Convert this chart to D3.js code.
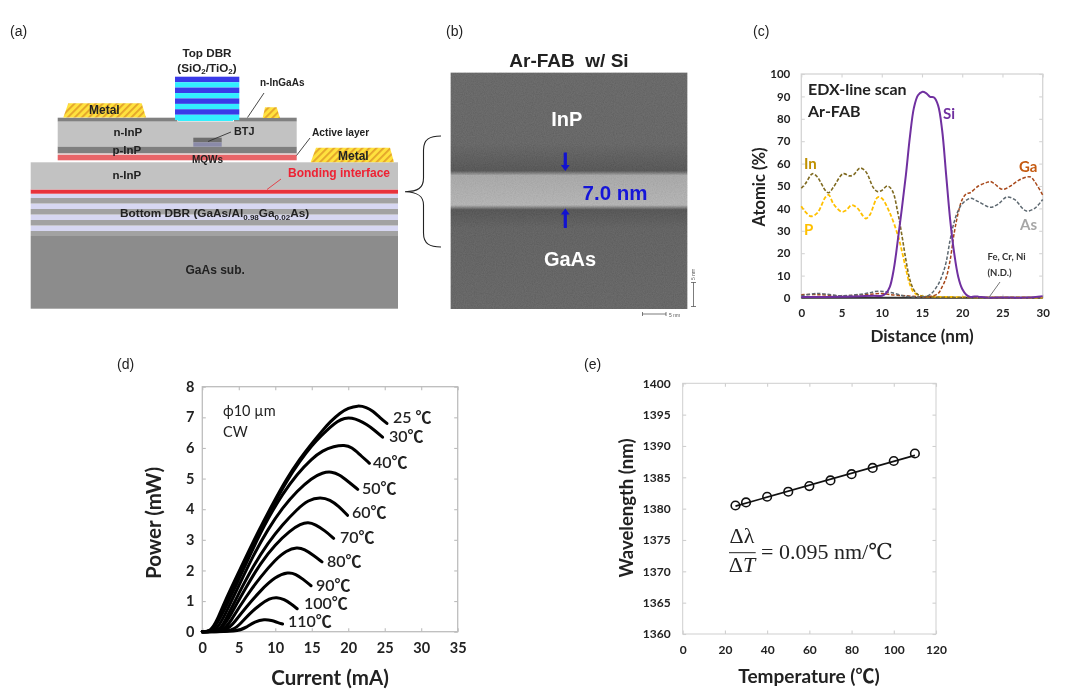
<!DOCTYPE html>
<html><head><meta charset="utf-8">
<script src="https://cdn.jsdelivr.net/npm/d3@7/dist/d3.min.js"></script>
<style>html,body{margin:0;padding:0;background:#fff}svg{display:block;filter:blur(0.4px)}</style>
</head><body><svg id="c" width="1090" height="696"></svg>
<script>
// ---------- panel (c) EDX line scan: [distance nm, atomic %]
const edxIn=[[0,49],[0.5,51],[1.4,55.5],[2,54],[3,48],[3.4,47],[4,49.5],[5.2,55.5],[6,54.5],[6.5,55],[7.3,58],[8,56.5],[9,49],[9.5,47.5],[10,48],[10.7,50],[11.3,48],[12,38],[12.5,28],[13,17],[13.5,8],[14,3.5],[14.5,1.5],[15,0.8],[16,0.5],[18,0.3],[22,0.2],[30,0.2]];
const edxP=[[0,41],[0.5,38.5],[1.2,36.5],[2,38],[3,45],[3.4,46],[4,42],[5,38.5],[5.5,39],[6.3,41.5],[7,40],[8,35.5],[8.5,37],[9.5,45],[10,44.5],[11,38],[12,28],[12.5,21],[13,13],[13.5,6],[14,2.5],[15,0.8],[16,0.6],[18,0.5],[22,0.3],[30,0.2]];
const edxSi=[[0,0.5],[5,0.6],[9,1],[10,1],[10.5,2],[11,5],[11.5,13],[12,26],[12.5,40],[13,55],[13.5,72],[14,85],[14.5,90.5],[15,92],[15.5,91.5],[16,89.8],[16.5,89.5],[17,86],[17.5,75],[18,55],[18.5,35],[19,20],[19.5,9.5],[20,4],[20.5,1.5],[21,0.5],[21.5,0.7],[22,0.6],[23,0.2],[25,0.2],[28,0.2],[30,0.8]];
const edxGa=[[0,1.5],[2,1.5],[5,1],[8,1.5],[10,2],[11,1.5],[13,1],[15,0.5],[16,0.7],[17,2],[17.5,5],[18,9],[18.5,17],[19,29],[19.5,38],[20,44],[20.5,46.5],[21,47],[22,50],[23,51.5],[23.5,52],[24,51],[25,48.5],[26,50],[27,52.5],[28,54],[28.5,54],[29,52],[30,46]];
const edxAs=[[0,1],[2,2],[5,1],[8,2],[9.5,3],[11,2.5],[13,0.8],[15,0.5],[16,1.5],[17,6],[17.5,10],[18,16],[18.5,26],[19,34],[19.5,39],[20,42],[21,44.5],[22,43],[23.5,40.5],[24.5,42],[25.5,45],[26.5,44],[27.5,40],[28,38.8],[29,40],[30,44]];
const edxTrace=[[0,0.1],[10,0.1],[20,0.1],[30,0.1]];
const edxXTicks=[0,5,10,15,20,25,30];
const edxYTicks=[0,10,20,30,40,50,60,70,80,90,100];

// ---------- panel (d) L-I curves: [current mA, power mW]
const liTemps=["25 ℃","30℃","40℃","50℃","60℃","70℃","80℃","90℃","100℃","110℃"];
const li25=[[0,0],[1.1,0],[2,0.35],[3,0.95],[5.2,2.05],[7.5,3.2],[9.7,4.2],[11.5,4.98],[13.4,5.66],[15,6.15],[16.4,6.55],[17.5,6.85],[18.9,7.15],[20,7.3],[21.3,7.39],[22.5,7.33],[23.4,7.2],[24.3,7.0],[25.3,6.8]];
const li30=[[0,0],[1.2,0],[2,0.3],[3,0.85],[5.2,1.98],[7.5,3.12],[9.7,4.12],[11.5,4.9],[13.4,5.58],[15,6.08],[16.4,6.42],[17.5,6.67],[18.5,6.87],[19.5,6.98],[20.5,6.98],[21.5,6.9],[22.5,6.77],[23.5,6.6],[24.7,6.35]];
const li40=[[0,0],[1.5,0],[3,0.7],[5,1.7],[7,2.75],[9,3.7],[11,4.5],[13,5.15],[15,5.65],[16.5,5.92],[18,6.05],[19.5,6.1],[20.5,6.02],[21.5,5.8],[22.9,5.5]];
const li50=[[0,0],[1.9,0],[3,0.5],[5,1.5],[7,2.5],[9,3.35],[11,4.05],[13,4.6],[15,5.02],[16.5,5.2],[17.7,5.23],[18.8,5.13],[20,4.9],[21.3,4.65]];
const li60=[[0,0],[2.3,0],[3,0.3],[5,1.25],[7,2.15],[9,2.9],[11,3.5],[13,4.0],[14.5,4.3],[16.2,4.4],[17.5,4.31],[18.7,4.1],[19.9,3.8]];
const li70=[[0,0],[2.6,0],[4,0.6],[6,1.45],[8,2.25],[10,2.85],[12,3.3],[13.5,3.52],[14.5,3.58],[15.5,3.5],[16.8,3.3],[18,3.05]];
const li80=[[0,0],[3,0],[4,0.4],[6,1.15],[8,1.8],[10,2.35],[11.5,2.65],[13,2.76],[14,2.69],[15.2,2.5],[16.4,2.28]];
const li90=[[0,0],[3.4,0],[4.5,0.35],[6,0.8],[8,1.35],[10,1.8],[11.8,1.95],[12.8,1.88],[13.8,1.72],[14.9,1.5]];
const li100=[[0,0],[4,0],[5,0.2],[6.5,0.6],[8,0.9],[9.2,1.09],[10.2,1.13],[11.2,1.06],[12.2,0.9],[13,0.75]];
const li110=[[0,0],[4.9,0],[6,0.14],[7.2,0.33],[8.5,0.41],[9.5,0.37],[10.3,0.3],[11,0.25]];
const liSeries=[li25,li30,li40,li50,li60,li70,li80,li90,li100,li110];
const liXTicks=[0,5,10,15,20,25,30,35];
const liYTicks=[0,1,2,3,4,5,6,7,8];

// ---------- panel (e) wavelength vs temperature
const tempC=[25,30,40,50,60,70,80,90,100,110];
const wavelengthNm=[1380.5,1381,1381.9,1382.7,1383.6,1384.5,1385.5,1386.5,1387.6,1388.8];
const fitTemp=[25,110];
const fitWavelength=[1380.4,1388.5];
const wlXTicks=[0,20,40,60,80,100,120];
const wlYTicks=[1360,1365,1370,1375,1380,1385,1390,1395,1400];

// ---------- panel (a) layer stack thicknesses, substrate upward (schematic units)
const stackNames=["GaAs sub.","GaAs","AlGaAs","GaAs","AlGaAs","GaAs","AlGaAs","GaAs","AlGaAs","Bond","n-InP"];
const stackThick=[72.7,5,5.5,5.5,5.5,5.5,5.5,5.5,4.3,4.2,27.2];
const topDbrPairs=[1,2,3,4];

const svg=d3.select("#c");
const defs=svg.append("defs");
const SANS="'Liberation Sans',Arial,sans-serif", LATO="Lato,'Noto Sans CJK JP',sans-serif";
function T(g,x,y,s,o={}){
  const t=g.append("text").attr("x",x).attr("y",y).attr("font-family",o.f||SANS)
   .attr("font-size",o.s||11).attr("font-weight",o.w||"normal").attr("fill",o.c||"#111")
   .attr("text-anchor",o.a||"start").text(s);
  if(o.ls)t.attr("letter-spacing",o.ls);
  if(o.rot)t.attr("transform",`rotate(${o.rot} ${x} ${y})`);
  return t;
}
// panel letters
[["(a)",10,36],["(b)",446,36],["(c)",753,36],["(d)",117,369],["(e)",584,369]].forEach(d=>T(svg,d[1],d[2],d[0],{s:14,c:"#222"}));

// ======= (a) =======
const a=svg.append("g");
const hatch=defs.append("pattern").attr("id","hatch").attr("width",5).attr("height",5).attr("patternUnits","userSpaceOnUse").attr("patternTransform","rotate(45)");
hatch.append("rect").attr("width",5).attr("height",5).attr("fill","#ffe23e");
hatch.append("rect").attr("width",1.8).attr("height",5).attr("fill","#e3a32a");
const ax=d3.scaleLinear().domain([0,1090]).range([0,1090]);
const ay=d3.scaleLinear().domain([0,696]).range([696,0]); // schematic height scale
const stackCol={"GaAs sub.":"#8c8c8c","GaAs":"#a2a2a2","AlGaAs":"#d7d7f2","Bond":"#e8323c","n-InP":"#c2c2c2"};
let h0=696-308.7;
stackNames.forEach((n,i)=>{
  const top=h0+stackThick[i];
  a.append("rect").attr("x",ax(30.7)).attr("width",ax(398)-ax(30.7)).attr("y",ay(top)).attr("height",ay(h0)-ay(top)).attr("fill",stackCol[n]);
  h0=top;
});
const R=(x0,x1,y0,y1,c)=>a.append("rect").attr("x",ax(x0)).attr("width",ax(x1)-ax(x0)).attr("y",y0).attr("height",y1-y0).attr("fill",c);
R(57.7,296.7,121.5,146.7,"#c2c2c2");
R(57.7,296.7,146.7,153.5,"#7f7f7f");
R(57.7,296.7,153.5,155,"#e9c9c9");
R(57.7,296.7,155,160.3,"#e86468");
R(57.7,177.3,117.7,121.5,"#808080");
R(234,296.7,117.7,121.5,"#808080");
// Top DBR
R(178,233,115,121,"#33f0ff");
topDbrPairs.forEach((p,i)=>{
  R(175,239.3,76.7+i*10.85,82.2+i*10.85,"#3a3ae8");
  R(175,239.3,82.2+i*10.85,87.55+i*10.85,"#33eeff");
});
R(193.3,221.7,137.7,142.3,"#6e6e6e");
R(193.3,221.7,142.3,146.7,"#8a8aa8");
const metal=[[[63.3,117.4],[68.3,103.3],[141.7,103.3],[146,117.4]],[[262.7,118],[265,107.3],[276.7,107.3],[280,118]],[[310.7,162.3],[316,147.7],[390,147.7],[394,162.3]]];
metal.forEach(m=>a.append("path").attr("d",d3.line()(m)+"Z").attr("fill","url(#hatch)"));
const bo={w:"bold",s:11.5,c:"#222"};
T(a,207,57,"Top DBR",{...bo,a:"middle",s:11.7});
const sd=T(a,207,72,"",{...bo,a:"middle",s:11.7});
[["(SiO",0],["2",2],["/TiO",-2],["2",2],[")",-2]].forEach(d=>sd.append("tspan").attr("dy",d[1]).attr("font-size",d[1]>0?8:11.7).text(d[0]));
T(a,260,86,"n-InGaAs",{...bo,s:10});
T(a,89,114,"Metal",{...bo,s:12});
T(a,338,160,"Metal",{...bo,s:12});
T(a,113.5,136,"n-InP",bo);
T(a,112.5,153.5,"p-InP",bo);
T(a,192,162.5,"MQWs",{...bo,s:10});
T(a,234,135,"BTJ",{...bo,s:10.8});
T(a,312,136,"Active layer",{...bo,s:10.2});
T(a,112.5,179,"n-InP",bo);
T(a,288,177,"Bonding interface",{...bo,s:12,c:"#ee2233"});
T(a,185.5,274,"GaAs sub.",{...bo,s:12});
const db=T(a,120,217,"",{...bo,s:11.8});
[["Bottom DBR (GaAs/Al",0,11.8],["0.98",3,8],["Ga",-3,11.8],["0.02",3,8],["As)",-3,11.8]].forEach(d=>db.append("tspan").attr("dy",d[1]).attr("font-size",d[2]).text(d[0]));
[[[247.5,117.5],[264,93]],[[208,141.5],[231,132]],[[296.5,155.5],[310,138]]].forEach(l=>a.append("path").attr("d",d3.line()(l)).attr("stroke","#333").attr("stroke-width",0.9).attr("fill","none"));
a.append("path").attr("d",d3.line()([[267,189.5],[281,179]])).attr("stroke","#e8323c").attr("stroke-width",0.9).attr("fill","none");
// brace
a.append("path").attr("d","M441,136 C430,136 423.5,139 423.5,150 L423.5,178 C423.5,188 418,191.5 405,191.7 C418,192 423.5,196 423.5,205 L423.5,233 C423.5,244 430,247 441,247").attr("fill","none").attr("stroke","#222").attr("stroke-width",1.1);

// ======= (b) =======
const b=svg.append("g");
const gr=defs.append("linearGradient").attr("id","tem").attr("x1",0).attr("x2",0).attr("y1",0).attr("y2",1);
[[0,"#585858"],[0.3,"#565656"],[0.415,"#434343"],[0.435,"#a4a4a4"],[0.56,"#b2b2b2"],[0.58,"#424242"],[0.66,"#515151"],[1,"#565656"]].forEach(d=>gr.append("stop").attr("offset",d[0]).attr("stop-color",d[1]));
const nf=defs.append("filter").attr("id","noise").attr("x",0).attr("y",0).attr("width",1).attr("height",1);
nf.append("feTurbulence").attr("type","fractalNoise").attr("baseFrequency",0.9).attr("numOctaves",2).attr("seed",3);
nf.append("feColorMatrix").attr("values","0.6 0 0 0 0.2  0.6 0 0 0 0.2  0.6 0 0 0 0.2  0 0 0 0 1");
b.append("rect").attr("x",450.7).attr("y",72.7).attr("width",236.6).attr("height",236.3).attr("fill","url(#tem)");
b.append("rect").attr("x",450.7).attr("y",72.7).attr("width",236.6).attr("height",236.3).attr("filter","url(#noise)").attr("opacity",0.18);
T(b,569,66.7,"Ar-FAB\u00a0\u00a0w/ Si",{s:19,w:"bold",a:"middle",c:"#222"});
T(b,566.7,125.7,"InP",{s:20,w:"bold",a:"middle",c:"#fff"});
T(b,570,266,"GaAs",{s:20,w:"bold",a:"middle",c:"#fff"});
T(b,582.6,200,"7.0 nm",{s:20.5,w:"bold",c:"#1515d8"});
const arrow=(x,y0,y1)=>{const d=y1>y0?1:-1;
 b.append("path").attr("d",`M${x-1.6},${y0} L${x+1.6},${y0} L${x+1.6},${y1-d*6} L${x+4.4},${y1-d*6} L${x},${y1} L${x-4.4},${y1-d*6} L${x-1.6},${y1-d*6}Z`).attr("fill","#1212d0");};
arrow(565.3,152.5,171);arrow(565.3,228,208.5);
const sc="#444";
b.append("path").attr("d","M693.5,282.5 V306.5 M691,282.5 H696 M691,306.5 H696 M642.5,312 V316 M642.5,314 H666 M666,312 V316").attr("stroke",sc).attr("stroke-width",0.7).attr("fill","none");
T(b,669,317,"5 nm",{s:5,c:"#555"});
T(b,695,280,"5 nm",{s:5,c:"#555",rot:-90});

// ---------- axes helper
function axes(g,box,x,y,xT,yT,o){
  const [l,t,r,bt]=box;
  g.append("rect").attr("x",l).attr("y",t).attr("width",r-l).attr("height",bt-t).attr("fill","none").attr("stroke",o.frame).attr("stroke-width",o.fw||1.3);
  const mk=(gen,tr)=>{const s=g.append("g").attr("transform",tr).call(gen);s.select(".domain").remove();s.selectAll("line").attr("stroke",o.frame).attr("stroke-width",1.1);return s;};
  const bx=mk(d3.axisBottom(x).tickValues(xT).tickSizeInner(-3.5).tickSizeOuter(0).tickPadding(o.xp).tickFormat(d3.format("d")),`translate(0,${bt})`);
  const ly=mk(d3.axisLeft(y).tickValues(yT).tickSizeInner(-3.5).tickSizeOuter(0).tickPadding(o.yp).tickFormat(d3.format("d")),`translate(${l},0)`);
  mk(d3.axisTop(x).tickValues(xT).tickSizeInner(-3.5).tickSizeOuter(0).tickFormat(""),`translate(0,${t})`);
  mk(d3.axisRight(y).tickValues(yT).tickSizeInner(-3.5).tickSizeOuter(0).tickFormat(""),`translate(${r},0)`);
  [bx,ly].forEach(s=>s.selectAll("text").attr("font-family",o.ff).attr("font-size",o.fs).attr("font-weight","bold").attr("fill","#222"));
}

// ======= (c) =======
const c=svg.append("g");
const cx=d3.scaleLinear().domain([0,30]).range([801.3,1042.7]);
const cy=d3.scaleLinear().domain([0,100]).range([298,74]);
axes(c,[801.3,74,1042.7,298],cx,cy,edxXTicks,edxYTicks,{frame:"#d4d4d4",xp:11,yp:11,ff:LATO,fs:11.5});
const cl=d3.line().x(d=>cx(d[0])).y(d=>cy(d[1])).curve(d3.curveCatmullRom.alpha(0.5));
[[edxTrace,"#333",2,null],[edxP,"#ffc000",1.8,"4 2"],[edxIn,"#7f6a20",1.6,"3.5 1.8"],[edxGa,"#a8481a",1.5,"3.5 1.8"],[edxAs,"#5d6870",1.5,"3.5 1.8"],[edxSi,"#7030a0",2,null]].forEach(s=>{
  const p=c.append("path").attr("d",cl(s[0])).attr("fill","none").attr("stroke",s[1]).attr("stroke-width",s[2]);
  if(s[3])p.attr("stroke-dasharray",s[3]);
});
T(c,808,95,"EDX-line scan",{f:LATO,s:16,w:"bold",c:"#222"});
T(c,808,117,"Ar-FAB",{f:LATO,s:16,w:"bold",c:"#222"});
T(c,943,119,"Si",{f:LATO,s:15,w:"bold",c:"#7030a0"});
T(c,804,169,"In",{f:LATO,s:15,w:"bold",c:"#bf9000"});
T(c,804,235,"P",{f:LATO,s:15,w:"bold",c:"#ffc000"});
T(c,1019,172,"Ga",{f:LATO,s:15,w:"bold",c:"#c55a11"});
T(c,1020,230,"As",{f:LATO,s:15,w:"bold",c:"#a6a6a6"});
T(c,987.5,260,"Fe, Cr, Ni",{f:LATO,s:9.5,w:"bold",c:"#333"});
T(c,987.5,276,"(N.D.)",{f:LATO,s:9.5,w:"bold",c:"#333"});
c.append("path").attr("d",d3.line()([[1000,282],[988.5,298]])).attr("stroke","#777").attr("fill","none");
T(c,922,342,"Distance (nm)",{f:LATO,s:17,w:"bold",a:"middle",c:"#222"});
T(c,765,187,"Atomic (%)",{f:LATO,s:16.5,w:"bold",a:"middle",c:"#222",rot:-90});

// ======= (d) =======
const d_=svg.append("g");
const dx=d3.scaleLinear().domain([0,35]).range([202.3,457.7]);
const dy=d3.scaleLinear().domain([0,8]).range([631.7,386.7]);
axes(d_,[202.3,386.7,457.7,631.7],dx,dy,liXTicks,liYTicks,{frame:"#bdbdbd",xp:11,yp:8,ff:LATO,fs:14.5});
const dl=d3.line().x(d=>dx(d[0])).y(d=>dy(d[1])).curve(d3.curveBasis);
liSeries.forEach(s=>d_.append("path").attr("d",dl(s)).attr("fill","none").attr("stroke","#000").attr("stroke-width",3).attr("stroke-linecap","round"));
const lblPos=[[393,423],[389,442],[373,468],[362,494],[352,518],[340,543],[327,567],[316,591],[304,609],[288,627]];
liTemps.forEach((s,i)=>T(d_,lblPos[i][0],lblPos[i][1],s,{f:LATO,s:16,c:"#222",w:600}));
T(d_,223,416,"ϕ10 µm",{f:LATO,s:14.5,c:"#222"});
T(d_,223,437,"CW",{f:LATO,s:14.5,c:"#222"});
T(d_,330,685,"Current (mA)",{f:LATO,s:20.5,w:"bold",a:"middle",c:"#222"});
T(d_,161,523,"Power (mW)",{f:LATO,s:20.5,w:"bold",a:"middle",c:"#222",rot:-90});

// ======= (e) =======
const e=svg.append("g");
const ex=d3.scaleLinear().domain([0,120]).range([682.7,936]);
const ey=d3.scaleLinear().domain([1360,1400]).range([634,383.3]);
axes(e,[682.7,383.3,936,634],ex,ey,wlXTicks,wlYTicks,{frame:"#cfcfcf",xp:11,yp:12,ff:LATO,fs:12,fw:1});
e.append("path").attr("d",d3.line().x((d,i)=>ex(fitTemp[i])).y(d=>ey(d))(fitWavelength)).attr("stroke","#111").attr("stroke-width",1.6).attr("fill","none");
e.selectAll("circle").data(tempC).join("circle").attr("cx",d=>ex(d)).attr("cy",(d,i)=>ey(wavelengthNm[i])).attr("r",4.3).attr("fill","none").attr("stroke","#111").attr("stroke-width",1.6);
const SER="'Liberation Serif','DejaVu Serif',serif";
T(e,742,542.5,"Δλ",{f:SER,s:22,a:"middle",c:"#222"});
const dt=T(e,742,572,"Δ",{f:SER,s:22,a:"middle",c:"#222"});
dt.append("tspan").attr("font-style","italic").text("T");
e.append("path").attr("d","M729,552.7 H755.7").attr("stroke","#222").attr("stroke-width",1);
T(e,761,559,"= 0.095 nm/℃",{f:SER,s:22,c:"#222"});
T(e,809,683,"Temperature (℃)",{f:LATO,s:19,w:"bold",a:"middle",c:"#222"});
T(e,633,508,"Wavelength (nm)",{f:LATO,s:18.5,w:"bold",a:"middle",c:"#222",rot:-90});
</script></body></html>
